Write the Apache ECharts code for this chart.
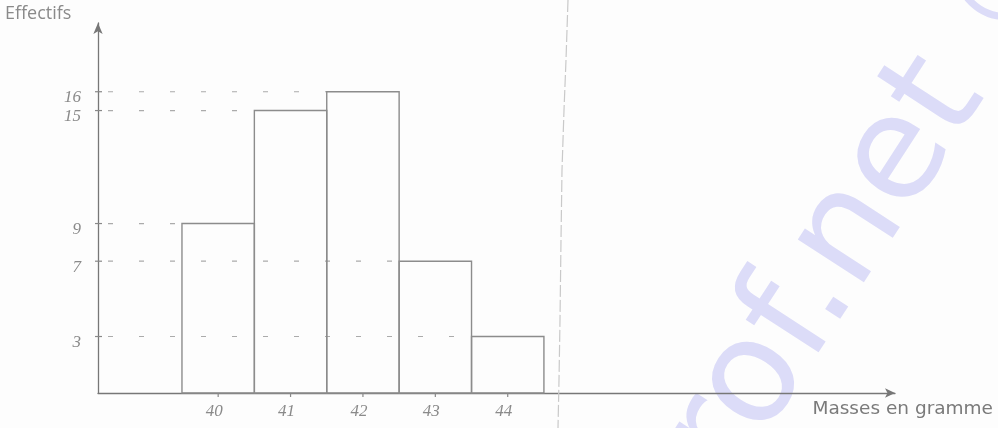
<!DOCTYPE html>
<html>
<head>
<meta charset="utf-8">
<script src="https://cdn.jsdelivr.net/npm/echarts@6/dist/echarts.min.js"></script>
<style>
html,body{margin:0;padding:0;background:#fdfdfd;}
#chart{width:998px;height:428px;}
</style>
</head>
<body>
<div id="chart"></div>
<script>
// ---- data ----
const masses = [40, 41, 42, 43, 44];          // class centres (g)
const effectifs = [9, 15, 16, 7, 3];          // frequencies
const yTickValues = [16, 15, 9, 7, 3];        // marked values on the y axis
const xTickLabels = ['40', '41', '42', '43', '44'];
const xAxisName = 'Masses en gramme';
const yAxisName = 'Effectifs';
const classWidth = 1;

// ---- axis ranges ----
const X_MIN = 38.34, X_MAX = 49.35;
const Y_MIN = 0, Y_MAX = 19.65;

const barData = masses.map((m, i) => [m, effectifs[i]]);
const handFont = 'italic 17px "Liberation Serif"';
const ink = '#8a8a8a';

const chart = echarts.init(document.getElementById('chart'), null, {renderer: 'canvas'});

const option = {
  backgroundColor: '#fdfdfd',
  animation: false,
  grid: {left: 98, right: 103, top: 23, bottom: 35},
  xAxis: {
    type: 'value', min: X_MIN, max: X_MAX,
    axisLine: {show: true, onZero: false, symbol: ['none', 'arrow'], symbolSize: [7, 10],
      lineStyle: {color: '#777', width: 1.3}},
    axisTick: {show: false}, axisLabel: {show: false}, splitLine: {show: false}
  },
  yAxis: {
    type: 'value', min: Y_MIN, max: Y_MAX,
    axisLine: {show: true, onZero: false, symbol: ['none', 'arrow'], symbolSize: [7, 11],
      lineStyle: {color: '#777', width: 1.3}},
    axisTick: {show: false}, axisLabel: {show: false}, splitLine: {show: false}
  },
  graphic: [
    {
      type: 'text', z: 0, x: 700, y: 466, rotation: 57 * Math.PI / 180,
      style: {text: 'rof.net ©', font: '144px "DejaVu Sans"', fill: '#dcdcf8',
        align: 'left', verticalAlign: 'middle'}
    },
    {
      type: 'polyline', z: 1,
      shape: {points: [[568, 0], [566, 60], [564, 110], [562, 170], [561, 240], [560, 320], [559, 380], [558, 428]]},
      style: {stroke: '#c9c9c9', lineWidth: 1.2, lineDash: [12, 3], fill: null}
    },
    {
      type: 'text', z: 5, left: 5, top: 5,
      style: {text: yAxisName, font: '18px "Open Sans"', fill: '#8a8a8a'}
    },
    {
      type: 'text', z: 5, right: 5, top: 400,
      style: {text: xAxisName, font: '18.5px "DejaVu Sans"', fill: '#7a7a7a'}
    }
  ],
  series: [
    {
      // dashed guides from the y axis to each bar top
      type: 'custom', z: 3, silent: true,
      data: barData,
      renderItem: function (params, api) {
        const m = api.value(0), v = api.value(1);
        const a = api.coord([X_MIN, v]);
        const b = api.coord([m - classWidth / 2, v]);
        return {
          type: 'group',
          children: [
            {type: 'line', shape: {x1: a[0], y1: a[1], x2: b[0], y2: b[1]},
              style: {stroke: '#ababab', lineWidth: 1.2, lineDash: [5, 26], lineDashOffset: -10}},
            {type: 'line', shape: {x1: a[0] - 3, y1: a[1], x2: a[0] + 4, y2: a[1]},
              style: {stroke: '#888', lineWidth: 1.2}}
          ]
        };
      }
    },
    {
      // histogram bars
      type: 'custom', z: 4,
      data: barData,
      renderItem: function (params, api) {
        const m = api.value(0), v = api.value(1);
        const p1 = api.coord([m - classWidth / 2, v]);
        const p2 = api.coord([m + classWidth / 2, 0]);
        return {
          type: 'rect',
          shape: {x: p1[0], y: p1[1], width: p2[0] - p1[0], height: p2[1] - p1[1]},
          style: {fill: 'rgba(255,255,255,0)', stroke: '#8c8c8c', lineWidth: 1.4}
        };
      }
    },
    {
      // y value labels
      type: 'custom', z: 5, silent: true,
      data: yTickValues.map(v => [X_MIN, v]),
      renderItem: function (params, api) {
        const p = api.coord([api.value(0), api.value(1)]);
        return {
          type: 'text', x: p[0] - 17, y: p[1] + 6,
          style: {text: String(api.value(1)), font: handFont, fill: ink, align: 'right', verticalAlign: 'middle'}
        };
      }
    },
    {
      // x ticks + labels at class centres
      type: 'custom', z: 5, silent: true,
      data: masses.map((m, i) => [m, 0, i]),
      renderItem: function (params, api) {
        const p = api.coord([api.value(0), 0]);
        const i = api.value(2);
        return {
          type: 'group',
          children: [
            {type: 'line', shape: {x1: p[0], y1: p[1], x2: p[0], y2: p[1] + 4},
              style: {stroke: '#888', lineWidth: 1.2}},
            {type: 'text', x: p[0] - 4, y: p[1] + 19,
              style: {text: xTickLabels[i], font: handFont, fill: ink, align: 'center', verticalAlign: 'middle'}}
          ]
        };
      }
    }
  ]
};
chart.setOption(option);
</script>
</body>
</html>
